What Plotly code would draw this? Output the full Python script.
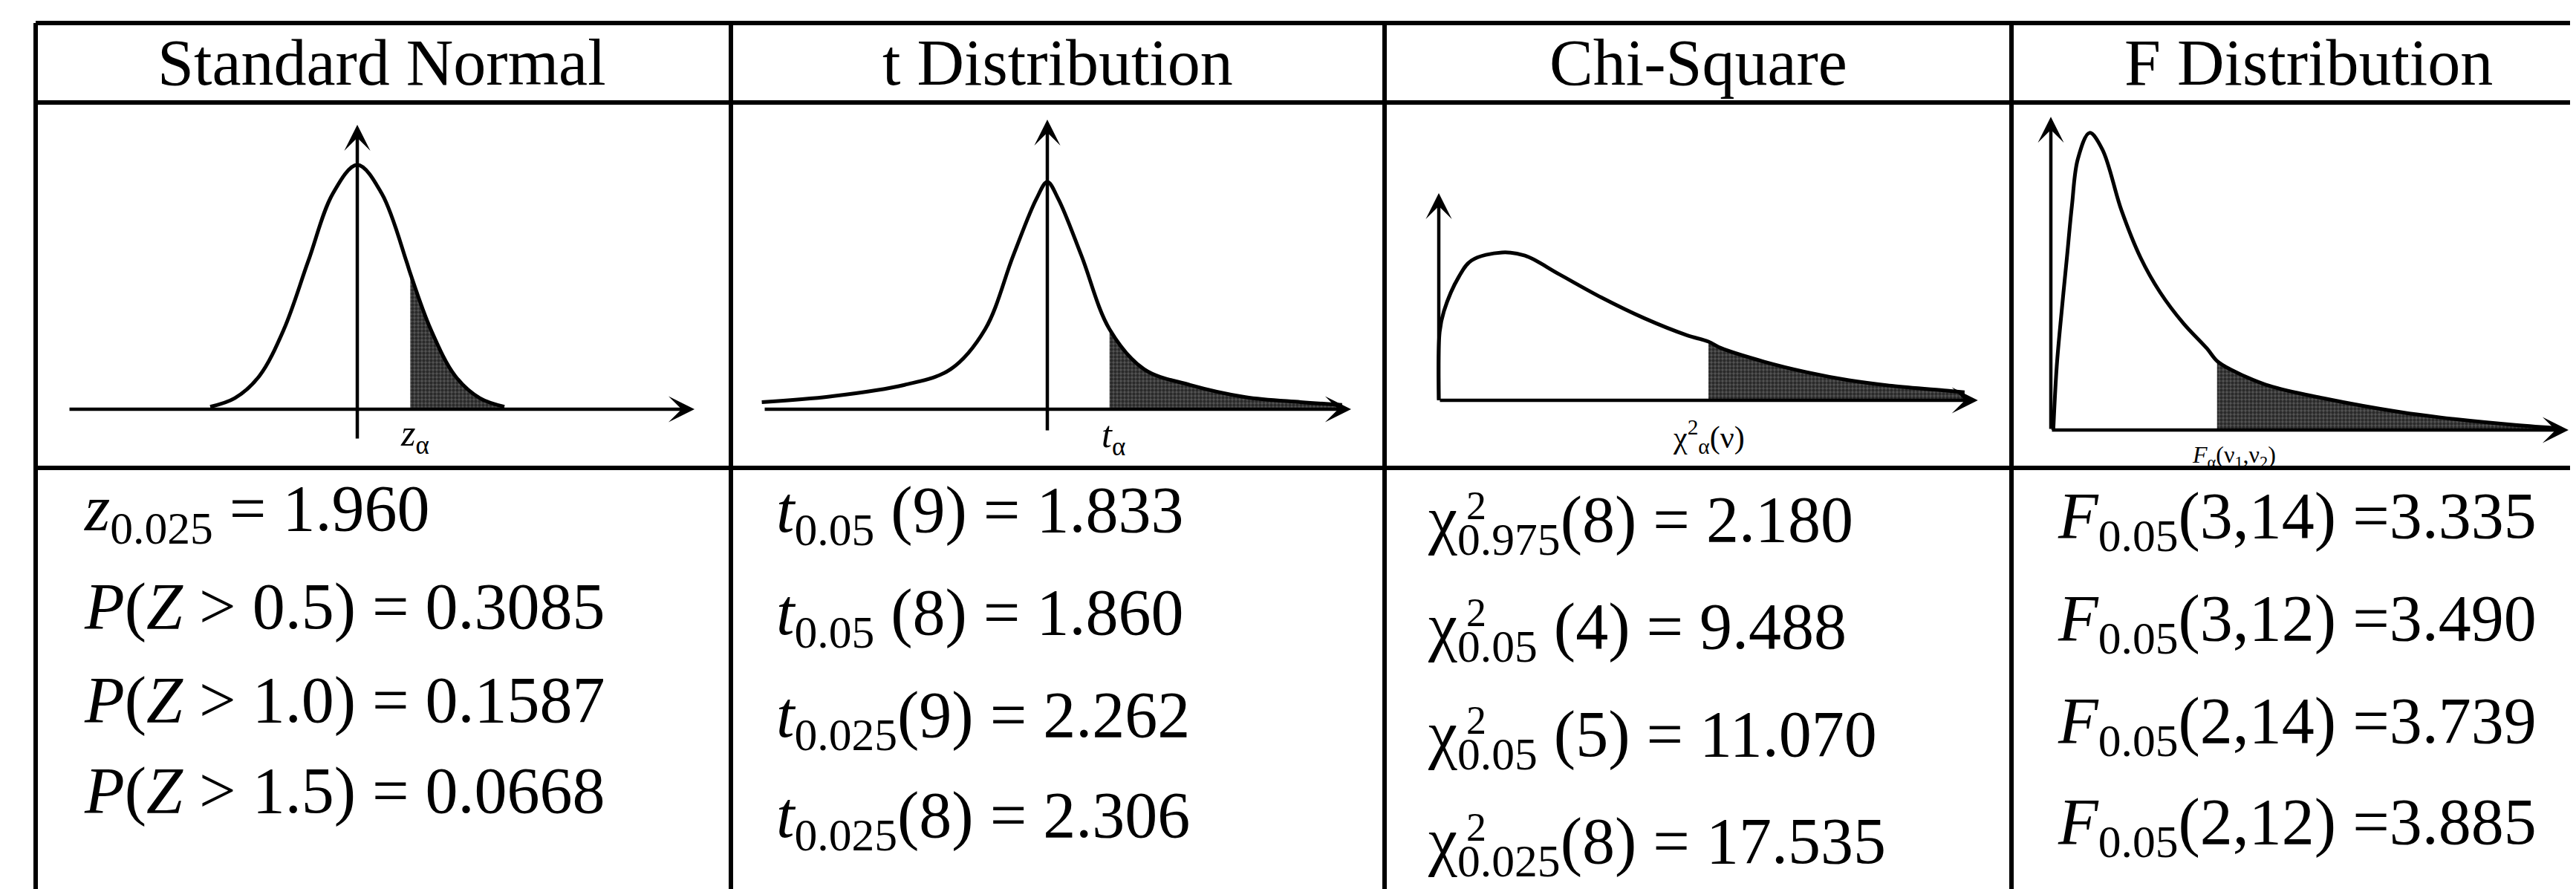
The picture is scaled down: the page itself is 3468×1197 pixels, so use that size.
import plotly.graph_objects as go

# canvas size (pixels)
W = 3468
H = 1197

HEADERS = ["Standard Normal", "t Distribution", "Chi-Square", "F Distribution"]

# curves (x in distribution units, y = density)
NORMAL_X = [-3.0, -2.5, -2.0, -1.5, -1.0, -0.5, 0.0, 0.5, 1.0, 1.08, 1.5, 2.0, 2.5, 3.0]
NORMAL_Y = [0.004, 0.018, 0.054, 0.130, 0.242, 0.352, 0.399, 0.352, 0.242, 0.222, 0.130, 0.054, 0.018, 0.004]

T_X = [-6.2, -4.7, -3.1, -2.1, -1.35, -0.74, -0.24, 0.0, 0.24, 0.74, 1.35, 2.1, 3.1, 4.3, 5.5, 6.4]
T_Y = [0.010, 0.018, 0.034, 0.056, 0.112, 0.215, 0.294, 0.318, 0.294, 0.215, 0.112, 0.056, 0.034, 0.017, 0.010, 0.006]

CHI_X = [0.0, 0.03, 0.18, 0.71, 1.15, 2.22, 3.03, 4.23, 5.72, 7.24, 8.73, 9.49, 9.93, 11.45, 12.94, 14.43, 15.94, 17.88, 18.5]
CHI_Y = [0.0, 0.085, 0.111, 0.154, 0.174, 0.184, 0.180, 0.157, 0.128, 0.102, 0.081, 0.073, 0.065, 0.048, 0.035, 0.025, 0.018, 0.012, 0.010]

F_X = [0.05, 0.12, 0.22, 0.33, 0.43, 0.55, 0.79, 1.05, 1.44, 1.83, 2.23, 2.71, 3.18, 3.39, 3.65, 4.44, 5.56, 7.14, 7.92, 9.47, 10.41]
F_Y = [0.0, 0.15, 0.28, 0.41, 0.53, 0.64, 0.702, 0.663, 0.519, 0.407, 0.325, 0.251, 0.193, 0.163, 0.144, 0.105, 0.075, 0.042, 0.030, 0.012, 0.004]

# start of the shaded upper tail in each sketch
CRITICAL = [1.08, 1.35, 9.49, 3.39]

AXIS_LABELS = [
    "<i>z</i><sub>α</sub>",
    "<i>t</i><sub>α</sub>",
    "χ<sup>2</sup><sub>α</sub>(ν)",
    "<i>F</i><sub>α</sub>(ν<sub>1</sub>,ν<sub>2</sub>)",
]

NORMAL_LINES = [
    "<i>z</i><sub>0.025</sub> = 1.960",
    "<i>P</i>(<i>Z</i> &gt; 0.5) = 0.3085",
    "<i>P</i>(<i>Z</i> &gt; 1.0) = 0.1587",
    "<i>P</i>(<i>Z</i> &gt; 1.5) = 0.0668",
]
T_LINES = [
    "<i>t</i><sub>0.05</sub> (9) = 1.833",
    "<i>t</i><sub>0.05</sub> (8) = 1.860",
    "<i>t</i><sub>0.025</sub>(9) = 2.262",
    "<i>t</i><sub>0.025</sub>(8) = 2.306",
]
CHI_LINES = [
    "χ<sub>0.975</sub>(8) = 2.180",
    "χ<sub>0.05</sub> (4) = 9.488",
    "χ<sub>0.05</sub> (5) = 11.070",
    "χ<sub>0.025</sub>(8) = 17.535",
]
F_LINES = [
    "<i>F</i><sub>0.05</sub>(3,14) =3.335",
    "<i>F</i><sub>0.05</sub>(3,12) =3.490",
    "<i>F</i><sub>0.05</sub>(2,14) =3.739",
    "<i>F</i><sub>0.05</sub>(2,12) =3.885",
]

FONT = "Liberation Serif"


def px(x):
    return x / W


def py(y):
    return 1 - y / H


# table grid (pixels)
COL_EDGES = [40, 976, 1856, 2700, W]
ROW_TOP = 23
ROW_HEAD = 130
ROW_GRAPH = 622

# per-sketch axis ranges, chosen so the sketches sit where they do in the cells
X_RANGES = [[-6.561, 7.621], [-6.871, 7.323], [-1.908, 20.152], [-0.803, 10.833]]
Y_RANGES = [[-0.0958, 0.5008], [-0.0821, 0.4293], [-0.0841, 0.3706], [-0.0895, 0.7737]]

# arrows: (x tail, x head) horizontal at y=0 ; vertical at x0 from y tail to y head
H_ARROWS = [(-5.894, 6.879), (-6.161, 6.597), (0.0, 18.97), (0.0, 10.56)]
V_ARROWS = [(0.0, -0.0497, 0.4645), (0.0, -0.0312, 0.4054), (0.0, 0.0, 0.2579), (0.0, 0.0, 0.740)]
LABEL_POS = [(1.18, -0.0437), (1.44, -0.0395), (9.49, -0.0453), (3.74, -0.063)]
LABEL_SIZE = [50, 50, 42, 32]

curves = [(NORMAL_X, NORMAL_Y), (T_X, T_Y), (CHI_X, CHI_Y), (F_X, F_Y)]

fig = go.Figure()
annotations = []
shapes = []
layout_axes = {}

for i, (xs, ys) in enumerate(curves):
    n = "" if i == 0 else str(i + 1)
    xa, ya = "x" + n, "y" + n
    layout_axes["xaxis" + n] = dict(
        domain=[px(COL_EDGES[i]), px(COL_EDGES[i + 1])],
        range=X_RANGES[i], visible=False, fixedrange=True, anchor=ya,
    )
    layout_axes["yaxis" + n] = dict(
        domain=[py(ROW_GRAPH), py(ROW_HEAD)],
        range=Y_RANGES[i], visible=False, fixedrange=True, anchor=xa,
    )

    # shaded tail
    tx = [x for x in xs if x >= CRITICAL[i]]
    ty = [y for x, y in zip(xs, ys) if x >= CRITICAL[i]]
    fig.add_trace(go.Scatter(
        x=tx, y=ty, xaxis=xa, yaxis=ya, mode="lines",
        line=dict(width=0, shape="spline"), fill="tozeroy",
        fillcolor="rgba(40,40,40,0.85)",
        fillpattern=dict(shape=".", fgcolor="black", bgcolor="#555555", size=5, solidity=0.6),
        showlegend=False, hoverinfo="skip",
    ))
    # curve
    fig.add_trace(go.Scatter(
        x=xs, y=ys, xaxis=xa, yaxis=ya, mode="lines",
        line=dict(color="black", width=5, shape="spline"),
        showlegend=False, hoverinfo="skip",
    ))

    # axes drawn as arrows
    x0, x1 = H_ARROWS[i]
    annotations.append(dict(
        x=x1, y=0, ax=x0, ay=0, xref=xa, yref=ya, axref=xa, ayref=ya,
        text="", showarrow=True, arrowhead=3, arrowsize=1.3, arrowwidth=4.5, arrowcolor="black",
    ))
    vx, vy0, vy1 = V_ARROWS[i]
    annotations.append(dict(
        x=vx, y=vy1, ax=vx, ay=vy0, xref=xa, yref=ya, axref=xa, ayref=ya,
        text="", showarrow=True, arrowhead=3, arrowsize=1.3, arrowwidth=4.5, arrowcolor="black",
    ))
    lx, ly = LABEL_POS[i]
    annotations.append(dict(
        x=lx, y=ly, xref=xa, yref=ya, text=AXIS_LABELS[i], showarrow=False,
        font=dict(family=FONT, size=LABEL_SIZE[i], color="black"),
        xanchor="center", yanchor="middle",
    ))

# headers
HEADER_CENTERS = [506, 1416, 2278, 3100]
for name, cx in zip(HEADERS, HEADER_CENTERS):
    annotations.append(dict(
        x=px(cx), y=py(76), xref="paper", yref="paper", text=name, showarrow=False,
        font=dict(family=FONT, size=88, color="black"), xanchor="center", yanchor="middle",
    ))

# value rows
TEXT_LEFT = [103, 1035, 1912, 2760]
BASELINES = [
    [714, 840, 966, 1088],
    [716, 854, 992, 1127],
    [729, 873, 1018, 1162],
    [724, 862, 1000, 1136],
]
for col, lines in enumerate([NORMAL_LINES, T_LINES, CHI_LINES, F_LINES]):
    for j, txt in enumerate(lines):
        annotations.append(dict(
            x=px(TEXT_LEFT[col]), y=py(BASELINES[col][j] - 32), xref="paper", yref="paper",
            text=txt, showarrow=False, font=dict(family=FONT, size=88, color="black"),
            xanchor="left", yanchor="middle",
        ))
        if col == 2:
            annotations.append(dict(
                x=px(1979), y=py(BASELINES[col][j] - 56), xref="paper", yref="paper",
                text="2", showarrow=False, font=dict(family=FONT, size=54, color="black"),
                xanchor="center", yanchor="middle",
            ))

# table lines
LW = 6
for y in [ROW_TOP, ROW_HEAD, ROW_GRAPH]:
    shapes.append(dict(type="line", xref="paper", yref="paper",
                       x0=px(COL_EDGES[0]), x1=1, y0=py(y), y1=py(y),
                       line=dict(color="black", width=LW)))
for x in COL_EDGES[:-1]:
    shapes.append(dict(type="line", xref="paper", yref="paper",
                       x0=px(x), x1=px(x), y0=py(ROW_TOP), y1=0,
                       line=dict(color="black", width=LW)))

fig.update_layout(
    width=W, height=H,
    margin=dict(l=0, r=0, t=0, b=0),
    paper_bgcolor="white", plot_bgcolor="white",
    annotations=annotations, shapes=shapes,
    showlegend=False,
    **layout_axes,
)

fig.write_html("out.html")
